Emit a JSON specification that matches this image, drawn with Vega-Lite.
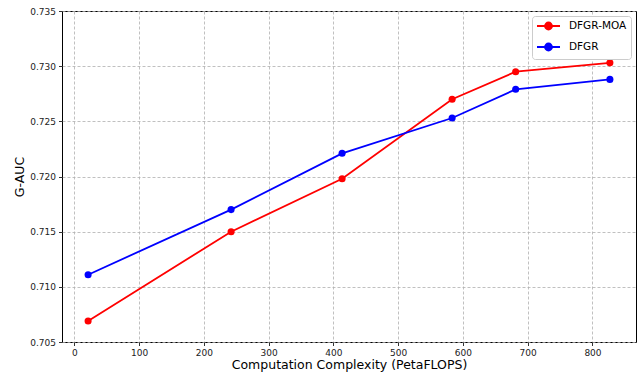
{
  "$schema": "https://vega.github.io/schema/vega-lite/v6.json",
  "width": 574,
  "height": 331,
  "autosize": {"type": "none"},
  "padding": {"left": 62, "top": 11, "right": 5, "bottom": 33},
  "background": "white",
  "config": {
    "font": "DejaVu Sans",
    "view": {"stroke": "#000000", "strokeWidth": 1},
    "axis": {
      "domain": false,
      "grid": true,
      "gridColor": "#b0b0b0",
      "gridDash": [3, 2],
      "gridWidth": 0.8,
      "tickColor": "#000000",
      "tickSize": 3.5,
      "tickWidth": 0.8,
      "labelFont": "DejaVu Sans",
      "labelFontSize": 9,
      "labelColor": "#222222",
      "titleFont": "DejaVu Sans",
      "titleFontSize": 12.5,
      "titleFontWeight": "normal",
      "titleColor": "#000000",
      "labelPadding": 3
    }
  },
  "data": {
    "values": [
      {"flops": 21.2, "gauc": 0.7069, "model": "DFGR-MOA"},
      {"flops": 242, "gauc": 0.7150, "model": "DFGR-MOA"},
      {"flops": 413.4, "gauc": 0.7198, "model": "DFGR-MOA"},
      {"flops": 583.3, "gauc": 0.7270, "model": "DFGR-MOA"},
      {"flops": 681.4, "gauc": 0.7295, "model": "DFGR-MOA"},
      {"flops": 826.9, "gauc": 0.7303, "model": "DFGR-MOA"},
      {"flops": 21.2, "gauc": 0.7111, "model": "DFGR"},
      {"flops": 242, "gauc": 0.7170, "model": "DFGR"},
      {"flops": 413.4, "gauc": 0.7221, "model": "DFGR"},
      {"flops": 583.3, "gauc": 0.7253, "model": "DFGR"},
      {"flops": 681.4, "gauc": 0.7279, "model": "DFGR"},
      {"flops": 826.9, "gauc": 0.7288, "model": "DFGR"}
    ]
  },
  "mark": {
    "type": "line",
    "strokeWidth": 1.8,
    "point": {"filled": true, "size": 50, "opacity": 1}
  },
  "encoding": {
    "x": {
      "field": "flops",
      "type": "quantitative",
      "title": "Computation Complexity (PetaFLOPS)",
      "scale": {"domain": [-19.1, 867.2], "nice": false, "zero": false},
      "axis": {"values": [0, 100, 200, 300, 400, 500, 600, 700, 800], "format": "d", "titlePadding": 1}
    },
    "y": {
      "field": "gauc",
      "type": "quantitative",
      "title": "G-AUC",
      "scale": {"domain": [0.705, 0.735], "nice": false, "zero": false},
      "axis": {"values": [0.705, 0.71, 0.715, 0.72, 0.725, 0.73, 0.735], "format": ".3f", "titlePadding": 3}
    },
    "color": {
      "field": "model",
      "type": "nominal",
      "sort": ["DFGR-MOA", "DFGR"],
      "scale": {"domain": ["DFGR-MOA", "DFGR"], "range": ["#ff0000", "#0000ff"]},
      "legend": {
        "title": null,
        "orient": "top-right",
        "offset": 5,
        "fillColor": "white",
        "strokeColor": "#cccccc",
        "cornerRadius": 3,
        "padding": 4,
        "rowPadding": 5,
        "labelFont": "DejaVu Sans",
        "labelFontSize": 10.5,
        "labelColor": "#000000",
        "labelOffset": 14.5,
        "symbolOffset": 6.5,
        "symbolType": "M-2.3,0H2.3M-0.7,0A0.7,0.7 0 1 1 0.7,0A0.7,0.7 0 1 1 -0.7,0Z",
        "symbolSize": 100,
        "symbolStrokeWidth": 1.8,
        "encode": {
          "symbols": {
            "update": {
              "fill": {"scale": "color", "field": "value"},
              "stroke": {"scale": "color", "field": "value"},
              "opacity": {"value": 1},
              "fillOpacity": {"value": 1}
            }
          }
        }
      }
    }
  }
}
